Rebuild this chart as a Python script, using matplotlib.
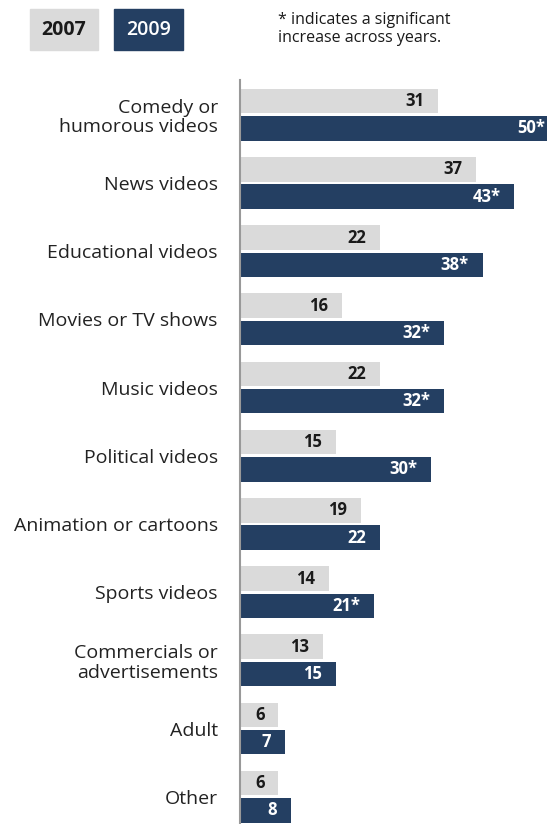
import matplotlib
matplotlib.use("Agg")
import matplotlib.pyplot as plt
import matplotlib.patches as patches

categories = ["Comedy or\nhumorous videos", "News videos", "Educational videos",
              "Movies or TV shows", "Music videos", "Political videos",
              "Animation or cartoons", "Sports videos",
              "Commercials or\nadvertisements", "Adult", "Other"]
vals_2007 = [31, 37, 22, 16, 22, 15, 19, 14, 13, 6, 6]
vals_2009 = [50, 43, 38, 32, 32, 30, 22, 21, 15, 7, 8]
signif_2009 = [True, True, True, True, True, True, False, True, False, False, False]

gray = "#dadada"
navy = "#243f62"
font = "Open Sans"

fig = plt.figure(figsize=(5.47, 8.24), dpi=100)
ax = fig.add_axes([240 / 547, 0, 1 - 240 / 547, 744 / 824])

pos = list(range(len(categories)))
h = 0.36
ax.barh([p - 0.2 for p in pos], vals_2007, height=h, color=gray)
ax.barh([p + 0.2 for p in pos], vals_2009, height=h, color=navy)

for p, v in zip(pos, vals_2007):
    ax.annotate(str(v), (v, p - 0.2), xytext=(-10, 0), textcoords="offset points",
                ha="right", va="center", fontsize=12, fontweight="bold",
                color="#1a1a1a", family=font, annotation_clip=False)
for p, v, s in zip(pos, vals_2009, signif_2009):
    ax.annotate(f"{v}*" if s else str(v), (v, p + 0.2), xytext=(-10, 0),
                textcoords="offset points", ha="right", va="center",
                fontsize=12, fontweight="bold", color="white", family=font,
                annotation_clip=False)

ax.set_xlim(0, 48.1)
ax.set_ylim(10.4, -0.51)
ax.set_yticks(pos)
ax.set_yticklabels(categories, fontsize=14, family=font, color="#222222",
                   linespacing=1.1)
ax.tick_params(axis="y", length=0, pad=16)
ax.set_xticks([])
for side in ["top", "right", "bottom"]:
    ax.spines[side].set_visible(False)
ax.spines["left"].set_color("#999999")
ax.spines["left"].set_linewidth(1.5)

# legend boxes
fig.patches.append(patches.Rectangle((30 / 547, 1 - 50 / 824), 68 / 547, 41 / 824,
                                     transform=fig.transFigure, color=gray))
fig.patches.append(patches.Rectangle((114 / 547, 1 - 50 / 824), 69 / 547, 41 / 824,
                                     transform=fig.transFigure, color=navy))
fig.text(64 / 547, 1 - 30 / 824, "2007", ha="center", va="center", fontsize=14,
         fontweight="bold", family=font, color="#1a1a1a")
fig.text(148.5 / 547, 1 - 30 / 824, "2009", ha="center", va="center", fontsize=14,
         fontweight="semibold", family=font, color="white")
fig.text(278 / 547, 1 - 29 / 824, "* indicates a significant\nincrease across years.",
         ha="left", va="center", fontsize=11.5, family=font, color="#1a1a1a",
         linespacing=1.25)

fig.savefig("out.png", dpi=100)
